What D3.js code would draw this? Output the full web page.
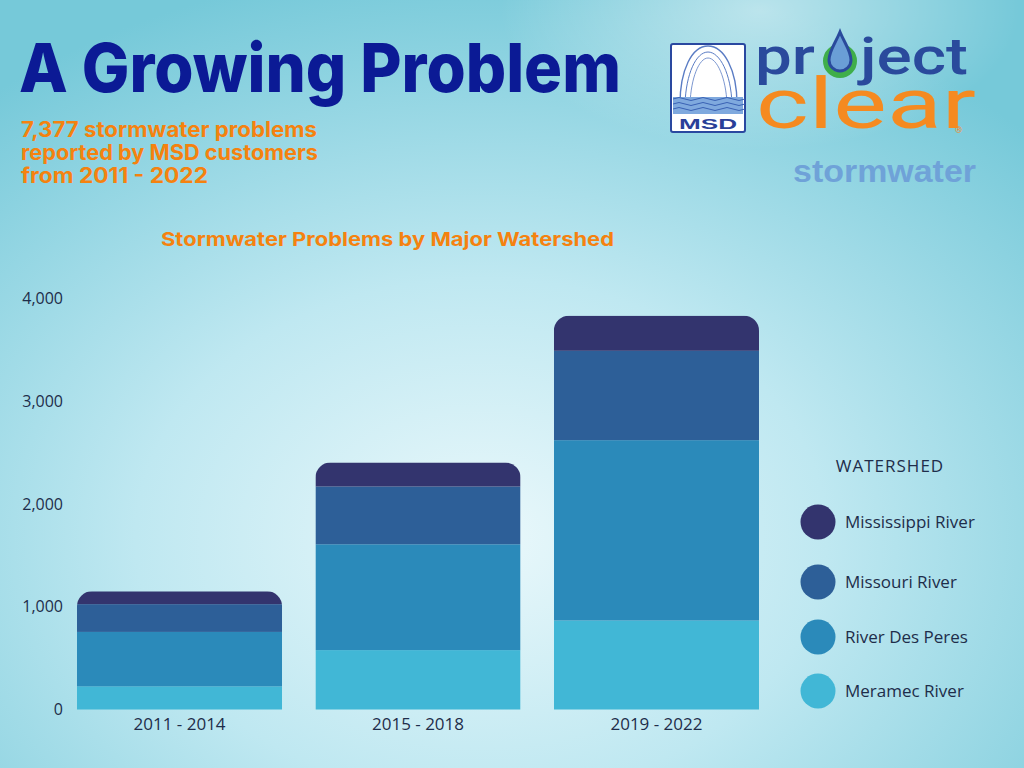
<!DOCTYPE html>
<html><head><meta charset="utf-8">
<script src="https://cdn.jsdelivr.net/npm/d3@7"></script>
<style>html,body{margin:0;padding:0;overflow:hidden}svg{display:block}</style>
</head><body><svg id="c" width="1024" height="768"></svg>
<script>
const periods = ["2011 - 2014", "2015 - 2018", "2019 - 2022"];
const watersheds = ["Meramec River", "River Des Peres", "Missouri River", "Mississippi River"];
const meramec = [225, 578, 866];
const desPeres = [530, 1030, 1755];
const missouri = [270, 562, 870];
const mississippi = [125, 234, 342];
const yTicks = [0, 1000, 2000, 3000, 4000];
const legendOrder = ["Mississippi River", "Missouri River", "River Des Peres", "Meramec River"];
const colors = {"Mississippi River":"#33346e","Missouri River":"#2d5f98","River Des Peres":"#2b8aba","Meramec River":"#41b7d6"};

const svg = d3.select("#c");
const defs = svg.append("defs");
const bg = defs.append("radialGradient").attr("id","bg").attr("cx","0.47").attr("cy","0.7").attr("r","0.75");
bg.append("stop").attr("offset","0").attr("stop-color","#eaf8fb");
bg.append("stop").attr("offset","0.45").attr("stop-color","#bfe8f1");
bg.append("stop").attr("offset","1").attr("stop-color","#76c9d9");
svg.append("rect").attr("width",1024).attr("height",768).attr("fill","url(#bg)");
const hl = defs.append("radialGradient").attr("id","hl").attr("cx","0.5").attr("cy","0.5").attr("r","0.5");
hl.append("stop").attr("offset","0").attr("stop-color","#ffffff").attr("stop-opacity",0.5);
hl.append("stop").attr("offset","1").attr("stop-color","#ffffff").attr("stop-opacity",0);
svg.append("ellipse").attr("cx",760).attr("cy",10).attr("rx",260).attr("ry",140).attr("fill","url(#hl)");

// Titles
svg.append("text").attr("x",19).attr("y",92).attr("textLength",602).attr("lengthAdjust","spacingAndGlyphs")
  .style("font-family","Inter, Roboto, sans-serif").style("font-weight",800).style("font-size","68px")
  .attr("fill","#0b1a95").text("A Growing Problem");
const sub = ["7,377 stormwater problems","reported by MSD customers","from 2011 - 2022"];
const subW = [296, 297, 187];
sub.forEach((s,i)=>svg.append("text").attr("x",21).attr("y",137+i*23).attr("textLength",subW[i]).attr("lengthAdjust","spacingAndGlyphs")
  .style("font-family","Inter, Lato, sans-serif").style("font-weight",700).style("font-size","21px")
  .attr("fill","#f5820f").text(s));
svg.append("text").attr("x",161).attr("y",246).attr("textLength",453).attr("lengthAdjust","spacingAndGlyphs")
  .style("font-family","Inter, Lato, sans-serif").style("font-weight",700).style("font-size","19px")
  .attr("fill","#f5820f").text("Stormwater Problems by Major Watershed");

// Logo
const lg = svg.append("g");
lg.append("rect").attr("x",671).attr("y",44).attr("width",74).attr("height",88).attr("rx",2).attr("fill","#ffffff").attr("stroke","#2a48a0").attr("stroke-width",2);
lg.append("path").attr("d","M680,104 C680,70 692,46 708,46 C724,46 737,70 737,104").attr("fill","none").attr("stroke","#5a7cc4").attr("stroke-width",1.4);
lg.append("path").attr("d","M685,104 C686,74 696,52 708,52 C720,52 731,74 732,104").attr("fill","none").attr("stroke","#5a7cc4").attr("stroke-width",1);
lg.append("path").attr("d","M690,104 C691,78 699,58 708,58 C717,58 726,78 727,104").attr("fill","none").attr("stroke","#5a7cc4").attr("stroke-width",0.8);
lg.append("rect").attr("x",673).attr("y",97).attr("width",70).attr("height",17).attr("fill","#7fa9de");
lg.append("path").attr("d","M673,99 q6,-3 12,0 t12,0 t12,0 t12,0 t12,0 t12,0 M673,104 q6,-3 12,0 t12,0 t12,0 t12,0 t12,0 t12,0 M673,109 q6,-3 12,0 t12,0 t12,0 t12,0 t12,0 t12,0").attr("fill","none").attr("stroke","#3a62b4").attr("stroke-width",1);
lg.append("text").attr("x",708).attr("y",129).attr("text-anchor","middle").attr("textLength",58).attr("lengthAdjust","spacingAndGlyphs").style("font-family","Liberation Sans, Arial").style("font-weight",900).style("font-size","15px").attr("fill","#2a3f98").text("MSD");
lg.append("text").attr("x",755).attr("y",74).attr("textLength",60).attr("lengthAdjust","spacingAndGlyphs").style("font-family","Roboto, sans-serif").style("font-weight",500).style("font-size","52px").attr("fill","#2a4a9c").text("pr");
lg.append("circle").attr("cx",840).attr("cy",61).attr("r",14).attr("fill","none").attr("stroke","#3fae4a").attr("stroke-width",6);
lg.append("path").attr("d","M840,32 C845,44 851,51 851,60 A11,11 0 0 1 829,60 C829,51 835,44 840,32 Z").attr("fill","#6a9ed6").attr("stroke","#2a4a9c").attr("stroke-width",3);
lg.append("text").attr("x",860).attr("y",74).attr("textLength",108).attr("lengthAdjust","spacingAndGlyphs").style("font-family","Roboto, sans-serif").style("font-weight",500).style("font-size","52px").attr("fill","#2a4a9c").text("ject");
lg.append("text").attr("x",756).attr("y",128).attr("textLength",220).attr("lengthAdjust","spacingAndGlyphs").style("font-family","Roboto, sans-serif").style("font-weight",400).style("font-size","70px").attr("fill","#f58a20").text("clear");
lg.append("text").attr("x",955).attr("y",133).style("font-family","Roboto, sans-serif").style("font-size","9px").attr("fill","#f58a20").text("®");
lg.append("text").attr("x",793).attr("y",182).attr("textLength",183).attr("lengthAdjust","spacingAndGlyphs").style("font-family","Liberation Sans, Arial, sans-serif").style("font-weight",700).style("font-size","32px").attr("fill","#6fa2d8").text("stormwater");

// Chart
const x = d3.scaleBand().domain(periods).range([60.3, 775.7]).paddingInner(0.14).paddingOuter(0.07);
const y = d3.scaleLinear().domain([0, 4000]).range([709.5, 298.5]);
const table = periods.map((p,i)=>({period:p,"Meramec River":meramec[i],"River Des Peres":desPeres[i],"Missouri River":missouri[i],"Mississippi River":mississippi[i]}));
const stack = d3.stack().keys(watersheds)(table);

periods.forEach((p,i)=>{
  const top = stack[stack.length-1][i][1];
  defs.append("clipPath").attr("id","clip"+i).append("rect")
    .attr("x",x(p)).attr("y",y(top)).attr("width",x.bandwidth()).attr("height",y(0)-y(top)+30).attr("rx",15);
});
const g = svg.append("g");
stack.forEach(layer=>{
  g.selectAll(null).data(layer).enter().append("rect")
    .attr("clip-path",(d,i)=>"url(#clip"+i+")")
    .attr("x",d=>x(d.data.period)).attr("width",x.bandwidth())
    .attr("y",d=>y(d[1])).attr("height",d=>y(d[0])-y(d[1]))
    .attr("fill",colors[layer.key]);
});

const yAxis = svg.append("g").attr("transform","translate(63,0)")
  .call(d3.axisLeft(y).tickValues(yTicks).tickSize(0).tickPadding(0).tickFormat(d3.format(",")));
yAxis.select(".domain").remove();
yAxis.selectAll("text").style("font-family","'Open Sans', sans-serif").style("font-size","16px").attr("fill","#1e2d4a");

const xAxis = svg.append("g").attr("transform","translate(0,710)")
  .call(d3.axisBottom(x).tickSize(0).tickPadding(8));
xAxis.select(".domain").remove();
xAxis.selectAll("text").style("font-family","'Open Sans', sans-serif").style("font-size","17px").attr("fill","#1e2d4a");

// Legend
svg.append("text").attr("x",890).attr("y",472).attr("text-anchor","middle")
  .style("font-family","'Open Sans', sans-serif").style("font-size","17px").style("letter-spacing","1px").attr("fill","#1e2d4a").text("WATERSHED");
const legY = [522, 582, 637, 691];
legendOrder.forEach((k,i)=>{
  svg.append("circle").attr("cx",818).attr("cy",legY[i]).attr("r",17.5).attr("fill",colors[k]);
  svg.append("text").attr("x",845).attr("y",legY[i]).attr("dy","0.35em")
    .style("font-family","'Open Sans', sans-serif").style("font-size","17px").attr("fill","#1e2d4a").text(k);
});
</script></body></html>
